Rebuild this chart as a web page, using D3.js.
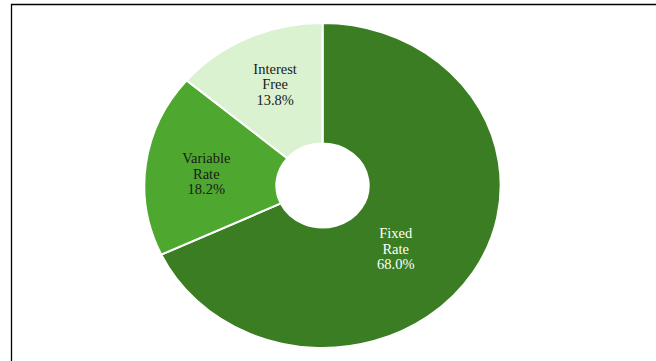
<!DOCTYPE html>
<html>
<head>
<meta charset="utf-8">
<script src="https://cdn.jsdelivr.net/npm/d3@7"></script>
<style>
  html, body { margin: 0; padding: 0; background: #ffffff; }
  svg { display: block; }
</style>
</head>
<body>
<svg id="chart" width="656" height="361"></svg>
<script>
// Loan portfolio by interest type (share of total, %)
const categories = ["Fixed Rate", "Variable Rate", "Interest Free"];
const shares = [68.0, 18.2, 13.8];
const labelLines = [["Fixed", "Rate"], ["Variable", "Rate"], ["Interest", "Free"]];
const colors = ["#3a7d22", "#4ea72e", "#daf2d0"];
const textColors = ["#ffffff", "#1a1a1a", "#1a1a1a"];

const W = 656, H = 361;
const cx = 322.5, cy = 185.5;
const ry = 162.5;          // vertical outer radius
const stretch = 1.097;     // plot area is wider than tall
const innerR = 42;

// small nudges applied to each label relative to the ring centroid
const labelNudge = { "Fixed Rate": [-24, 7], "Variable Rate": [-2, 2], "Interest Free": [1, -6] };

const svg = d3.select("#chart");

// frame of the chart area
svg.append("path")
  .attr("d", `M11.5,${H} L11.5,4.5 L${W},4.5`)
  .attr("fill", "none")
  .attr("stroke", "#000")
  .attr("stroke-width", 1.3);

const data = categories.map((c, i) => ({ name: c, value: shares[i], i }));

const pie = d3.pie().sort(null).value(d => d.value);
const arcs = pie(data);

const arc = d3.arc().innerRadius(innerR).outerRadius(ry);
const labelArc = d3.arc().innerRadius(105).outerRadius(105);

const ring = svg.append("g")
  .attr("transform", `translate(${cx},${cy}) scale(${stretch},1)`);

ring.selectAll("path.slice")
  .data(arcs)
  .join("path")
  .attr("class", "slice")
  .attr("d", arc)
  .attr("fill", d => colors[d.data.i])
  .attr("stroke", "#ffffff")
  .attr("stroke-width", 2)
  .attr("stroke-linejoin", "miter");

const labels = svg.append("g")
  .attr("font-family", "'Liberation Serif', 'Times New Roman', serif")
  .attr("font-size", 14.5)
  .attr("text-anchor", "middle");

arcs.forEach(d => {
  const [lx, ly] = labelArc.centroid(d);
  const nudge = labelNudge[d.data.name];
  const x = cx + lx * stretch + nudge[0];
  const y = cy + ly + nudge[1];
  const lines = labelLines[d.data.i].concat([d3.format(".1f")(d.data.value) + "%"]);
  const t = labels.append("text")
    .attr("fill", textColors[d.data.i])
    .attr("x", x)
    .attr("y", y);
  lines.forEach((s, k) => {
    t.append("tspan")
      .attr("x", x)
      .attr("y", y + (k - 1) * 15.5 + 5)
      .text(s);
  });
});
</script>
</body>
</html>
